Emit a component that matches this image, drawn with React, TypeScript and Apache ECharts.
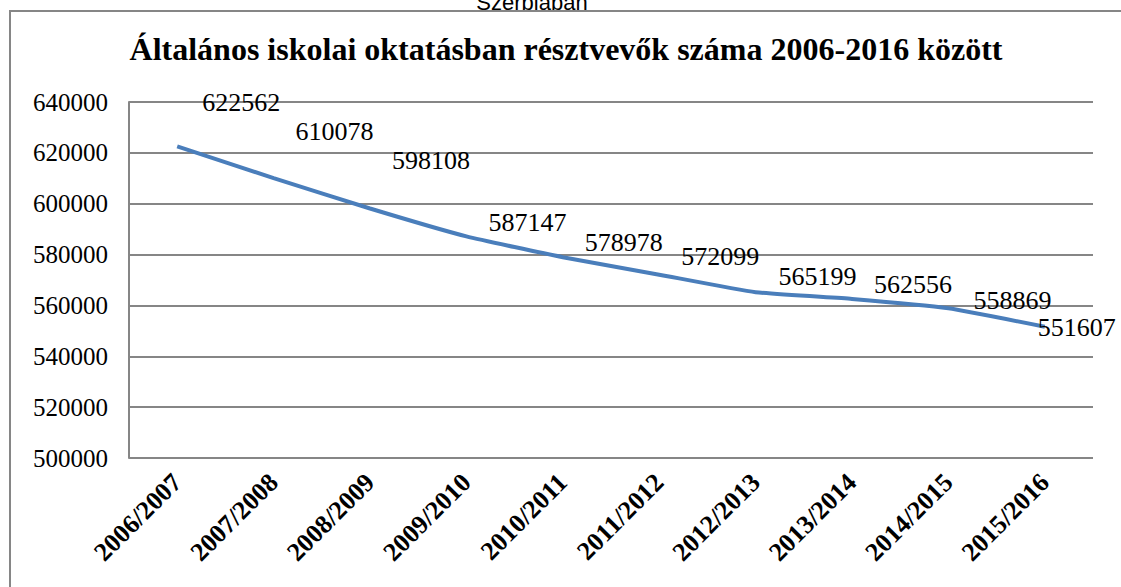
import React, { useEffect, useRef } from "react";
import * as echarts from "echarts";

const categories = [
  "2006/2007",
  "2007/2008",
  "2008/2009",
  "2009/2010",
  "2010/2011",
  "2011/2012",
  "2012/2013",
  "2013/2014",
  "2014/2015",
  "2015/2016",
];
const values = [622562, 610078, 598108, 587147, 578978, 572099, 565199, 562556, 558869, 551607];
const yTicks = { min: 500000, max: 640000, interval: 20000 };
const titleText = "Általános iskolai oktatásban résztvevők száma 2006-2016 között";
const topText = "Szerbiában";

// label placement (layout only)
const labelDx = [64, 61, 61, 61, 61, 61, 62, 61, 64, 32];
const labelDy = [-44, -47, -48, -14, -15, -18, -16, -14, -8, 1];

export default function App() {
  const ref = useRef<HTMLDivElement>(null);
  useEffect(() => {
    if (!ref.current) return;
    const chart = echarts.init(ref.current, undefined, { renderer: "svg" });
    const serif = "Liberation Serif, Times New Roman, serif";
    chart.setOption({
      animation: false,
      backgroundColor: "#ffffff",
      textStyle: { fontFamily: serif },
      grid: { left: 129, right: 28, top: 102, bottom: 129, containLabel: false },
      graphic: [
        {
          type: "rect",
          shape: { x: 10, y: 11, width: 1300, height: 800 },
          style: { fill: "none", stroke: "#868686", lineWidth: 2 },
          silent: true,
        },
        {
          type: "text",
          x: 532,
          y: 13,
          style: {
            text: topText,
            fontFamily: "Liberation Sans",
            fontSize: 22,
            fill: "#000",
            align: "center",
            verticalAlign: "bottom",
          },
        },
        {
          type: "text",
          x: 566,
          y: 49,
          style: {
            text: titleText,
            fontFamily: serif,
            fontWeight: "bold",
            fontSize: 32,
            fill: "#000",
            align: "center",
            verticalAlign: "middle",
          },
        },
      ],
      xAxis: {
        type: "category",
        data: categories,
        boundaryGap: true,
        axisLine: { show: false },
        axisTick: { show: false },
        axisLabel: {
          rotate: 45,
          margin: 20,
          fontFamily: serif,
          fontWeight: "bold",
          fontSize: 26,
          color: "#000",
          interval: 0,
        },
      },
      yAxis: {
        type: "value",
        min: yTicks.min,
        max: yTicks.max,
        interval: yTicks.interval,
        axisLine: { show: true, lineStyle: { color: "#868686", width: 2 } },
        axisTick: { show: false },
        splitLine: { show: true, lineStyle: { color: "#868686", width: 2 } },
        axisLabel: {
          margin: 21,
          fontFamily: serif,
          fontSize: 25,
          color: "#000",
          formatter: (v: number) => String(v),
        },
      },
      series: [
        {
          type: "line",
          data: values.map((v, i) => ({
            value: v,
            label: { offset: [labelDx[i], labelDy[i]] },
          })),
          smooth: 0.15,
          showSymbol: true,
          symbol: "circle",
          symbolSize: 0,
          itemStyle: { color: "#4a7ebb" },
          lineStyle: { color: "#4a7ebb", width: 4 },
          label: {
            show: true,
            position: "inside",
            fontFamily: serif,
            fontSize: 26,
            color: "#000",
          },
        },
      ],
    });
    return () => chart.dispose();
  }, []);
  return (
    <div
      ref={ref}
      style={{ position: "fixed", left: 0, top: 0, width: 1121, height: 587, background: "#fff" }}
    />
  );
}
